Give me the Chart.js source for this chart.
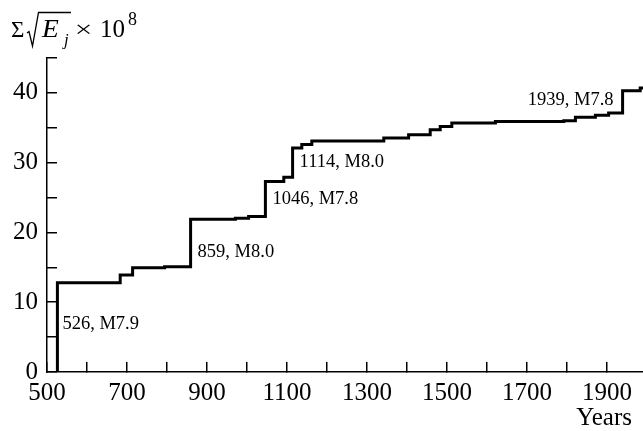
<!DOCTYPE html>
<html>
<head>
<meta charset="utf-8">
<script src="https://cdn.jsdelivr.net/npm/chart.js@4.4.0/dist/chart.umd.min.js"></script>
<style>
  html, body { margin: 0; padding: 0; background: #fff; }
</style>
</head>
<body>
<canvas id="myChart" width="643" height="431"></canvas>
<script>
// cumulative sum of sqrt(E_j), step at each event year
const years = [526, 526, 683, 714, 794, 859, 971, 1004, 1046, 1092, 1114, 1137, 1162, 1342,
  1404, 1458, 1483, 1512, 1621, 1792, 1821, 1871, 1904, 1939, 1983, 1990];
const sumValues = [0, 12.8, 13.9, 14.95, 15.1, 21.9, 22.05, 22.3, 27.3, 27.9, 32.1, 32.6, 33.1, 33.55,
  34.0, 34.7, 35.2, 35.7, 35.9, 36.0, 36.5, 36.8, 37.1, 40.3, 40.7, 40.7];

const xTicks = [500, 600, 700, 800, 900, 1000, 1100, 1200, 1300, 1400, 1500, 1600, 1700, 1800, 1900];
const xTickLabels = [500, 700, 900, 1100, 1300, 1500, 1700, 1900];
const yTicks = [0, 5, 10, 15, 20, 25, 30, 35, 40, 45];
const yTickLabels = [0, 10, 20, 30, 40];

// big events marked on the curve
const eventYears = [526, 859, 1046, 1114, 1939];
const eventLabels = ['526, M7.9', '859, M8.0', '1046, M7.8', '1114, M8.0', '1939, M7.8'];
const eventLabelValues = [6.9, 17.2, 24.8, 30.1, 39.0];

const serif = '"Liberation Serif", "Times New Roman", serif';

function stretchText(ctx, str, x, y, font, sx) {
  ctx.save();
  ctx.translate(x, y);
  ctx.scale(sx, 1);
  ctx.font = font;
  ctx.fillText(str, 0, 0);
  ctx.restore();
}

const notes = {
  id: 'notes',
  afterDraw(chart) {
    const { ctx, scales: { x, y } } = chart;
    ctx.save();
    ctx.fillStyle = '#000';
    ctx.strokeStyle = '#000';

    ctx.font = '18.5px ' + serif;
    ctx.textBaseline = 'middle';
    eventYears.forEach((yr, i) => {
      const px = x.getPixelForValue(yr);
      const py = y.getPixelForValue(eventLabelValues[i]);
      const last = i === eventYears.length - 1;
      ctx.textAlign = last ? 'right' : 'left';
      ctx.fillText(eventLabels[i], px + (last ? -9 : (i === 0 ? 5 : 7)), py);
    });

    ctx.font = '25px ' + serif;
    ctx.textAlign = 'right';
    ctx.fillText('Years', 632, 418);

    // y title: Σ √E_j × 10^8
    ctx.textAlign = 'left';
    ctx.textBaseline = 'alphabetic';
    stretchText(ctx, 'Σ', 11, 37, '23px ' + serif, 1);
    ctx.lineWidth = 1.3;
    ctx.beginPath();
    ctx.moveTo(27, 33);
    ctx.lineTo(29, 31.5);
    ctx.lineTo(32.5, 46);
    ctx.lineTo(38.5, 12.5);
    ctx.lineTo(71, 12.5);
    ctx.stroke();
    stretchText(ctx, 'E', 42, 37, 'italic 25px ' + serif, 1.1);
    stretchText(ctx, 'j', 64, 45, 'italic 16px ' + serif, 1.05);
    ctx.textAlign = 'center';
    stretchText(ctx, '×', 83.5, 37, '24px ' + serif, 1.3);
    ctx.textAlign = 'left';
    stretchText(ctx, '10', 100, 37, '25px ' + serif, 1);
    stretchText(ctx, '8', 128, 25, '18px ' + serif, 1);
    ctx.restore();
  }
};

const points = years.map((yr, i) => ({ x: yr, y: sumValues[i] }));

new Chart(document.getElementById('myChart').getContext('2d'), {
  type: 'line',
  data: {
    datasets: [{
      data: points,
      borderColor: '#000',
      borderWidth: 3,
      pointRadius: 0,
      stepped: 'before',
      fill: false
    }]
  },
  options: {
    responsive: false,
    animation: false,
    devicePixelRatio: 1,
    layout: { padding: { top: 58, right: 0, bottom: 0, left: 0 } },
    plugins: { legend: { display: false }, tooltip: { enabled: false } },
    scales: {
      x: {
        type: 'linear',
        min: 500,
        max: 1990,
        afterBuildTicks: s => { s.ticks = xTicks.map(v => ({ value: v })); },
        afterFit: s => { s.height = 59; s.paddingLeft = 0; s.paddingRight = 0; },
        grid: { drawOnChartArea: false, drawTicks: true, tickLength: -10, color: '#000', lineWidth: 1.5 },
        border: { display: true, color: '#000', width: 1.5 },
        ticks: {
          autoSkip: false,
          maxRotation: 0,
          padding: 16,
          color: '#000',
          font: { family: serif, size: 25 },
          callback: v => xTickLabels.includes(Math.round(v)) ? String(Math.round(v)) : ''
        }
      },
      y: {
        min: 0,
        max: 45,
        afterBuildTicks: s => { s.ticks = yTicks.map(v => ({ value: v })); },
        afterFit: s => { s.width = 47; },
        grid: { drawOnChartArea: false, drawTicks: true, tickLength: -10, color: '#000', lineWidth: 1.5 },
        border: { display: true, color: '#000', width: 1.5 },
        ticks: {
          autoSkip: false,
          padding: 19,
          color: '#000',
          font: { family: serif, size: 25 },
          callback: v => yTickLabels.includes(Math.round(v)) ? String(Math.round(v)) : ''
        }
      }
    }
  },
  plugins: [notes]
});
</script>
</body>
</html>
